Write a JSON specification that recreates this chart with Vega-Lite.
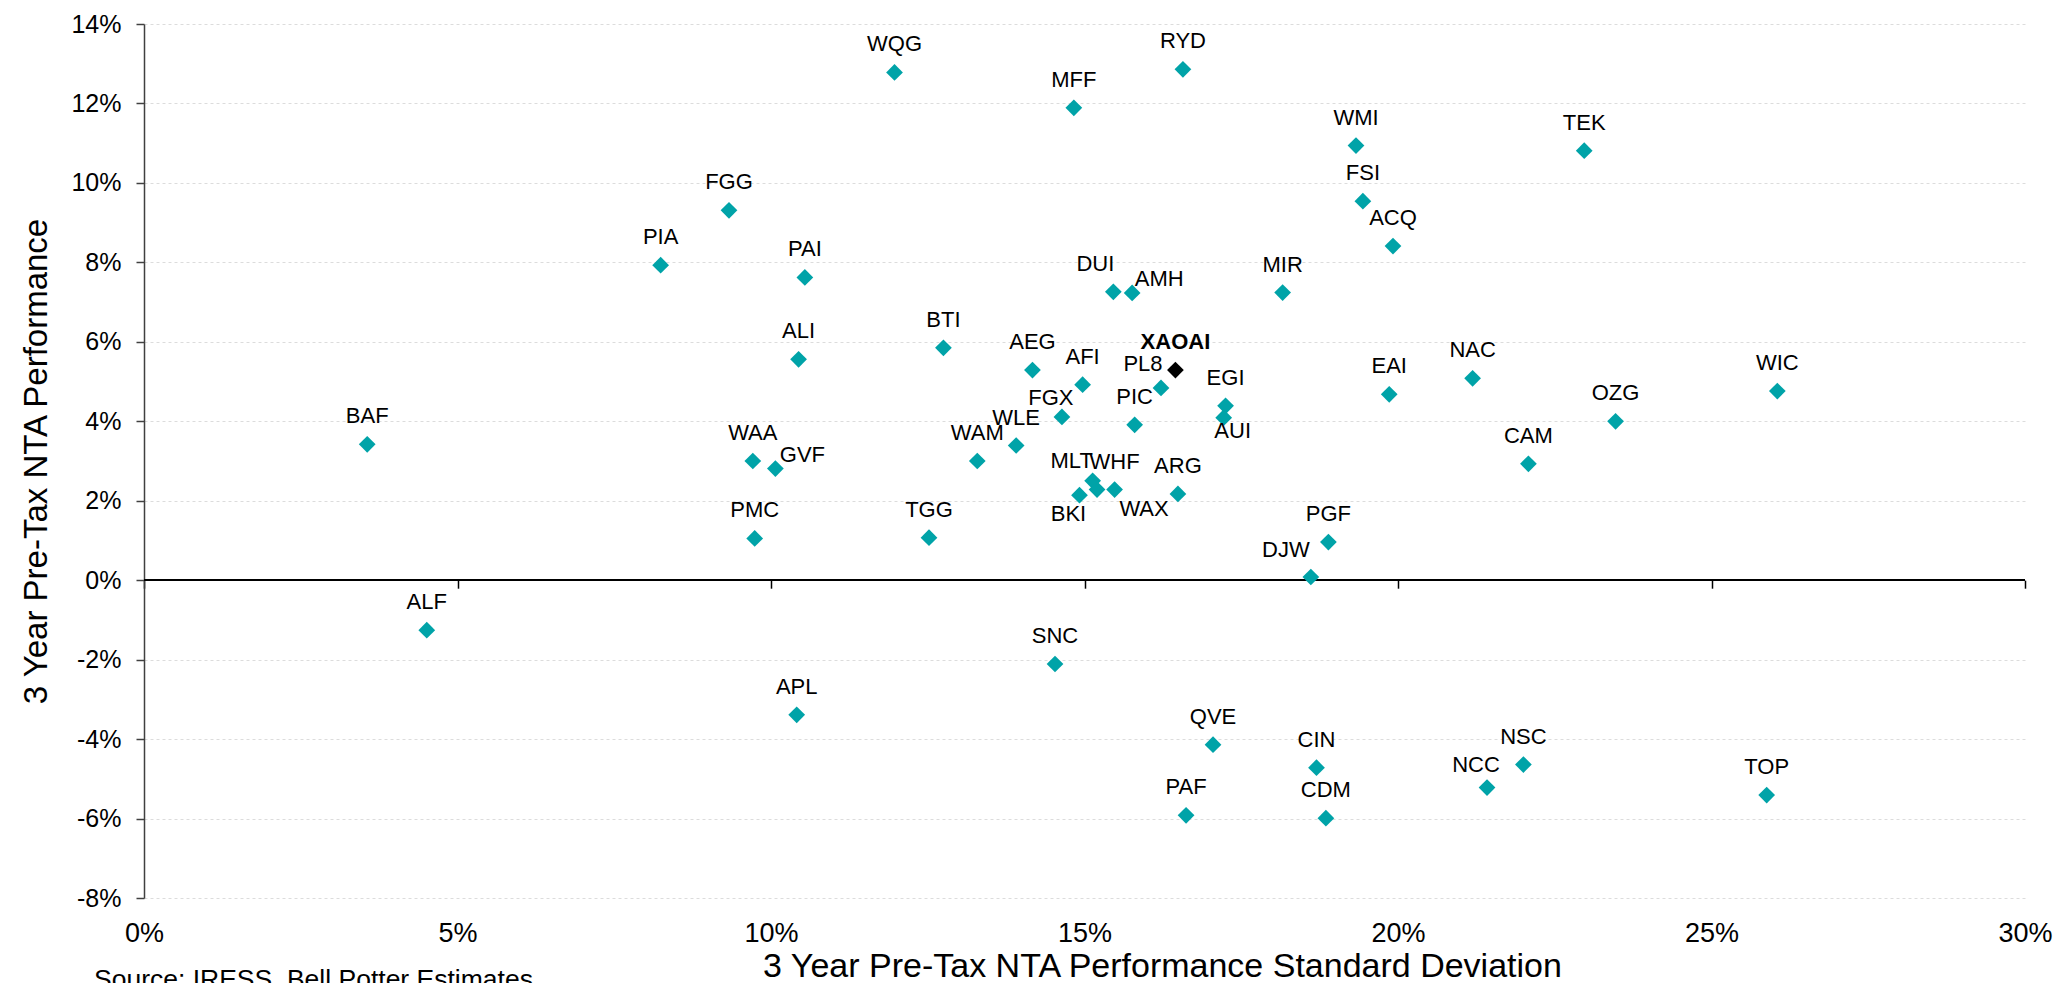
{
  "$schema": "https://vega.github.io/schema/vega-lite/v6.json",
  "width": 1881,
  "height": 874,
  "autosize": {"type": "none"},
  "padding": {"left": 144, "top": 24, "right": 30, "bottom": 85},
  "background": "white",
  "config": {"view": {"stroke": null}, "font": "Liberation Sans"},
  "title": {
    "text": "Source: IRESS, Bell Potter Estimates",
    "orient": "bottom",
    "anchor": "start",
    "frame": "group",
    "font": "Liberation Sans",
    "fontSize": 26.5,
    "fontWeight": "normal",
    "color": "#000000",
    "offset": -16,
    "dx": -50
  },
  "data": {
    "values": [
      {"name": "WQG", "sd": 11.97, "perf": 12.78},
      {"name": "RYD", "sd": 16.57, "perf": 12.86},
      {"name": "MFF", "sd": 14.83, "perf": 11.89},
      {"name": "WMI", "sd": 19.33, "perf": 10.94},
      {"name": "TEK", "sd": 22.97, "perf": 10.81},
      {"name": "FSI", "sd": 19.44, "perf": 9.54},
      {"name": "FGG", "sd": 9.33, "perf": 9.31},
      {"name": "ACQ", "sd": 19.92, "perf": 8.41},
      {"name": "PIA", "sd": 8.24, "perf": 7.93},
      {"name": "PAI", "sd": 10.54, "perf": 7.62},
      {"name": "DUI", "sd": 15.46, "perf": 7.26},
      {"name": "AMH", "sd": 15.76, "perf": 7.23},
      {"name": "MIR", "sd": 18.16, "perf": 7.24},
      {"name": "BTI", "sd": 12.75, "perf": 5.85},
      {"name": "ALI", "sd": 10.44, "perf": 5.56},
      {"name": "XAOAI", "sd": 16.45, "perf": 5.29},
      {"name": "AEG", "sd": 14.17, "perf": 5.29},
      {"name": "AFI", "sd": 14.97, "perf": 4.92},
      {"name": "PL8", "sd": 16.22, "perf": 4.84},
      {"name": "EGI", "sd": 17.25, "perf": 4.39},
      {"name": "AUI", "sd": 17.22, "perf": 4.09},
      {"name": "FGX", "sd": 14.64, "perf": 4.11},
      {"name": "PIC", "sd": 15.80, "perf": 3.91},
      {"name": "EAI", "sd": 19.86, "perf": 4.68},
      {"name": "NAC", "sd": 21.19, "perf": 5.08},
      {"name": "WIC", "sd": 26.05, "perf": 4.76},
      {"name": "OZG", "sd": 23.47, "perf": 4.00},
      {"name": "CAM", "sd": 22.08, "perf": 2.93},
      {"name": "BAF", "sd": 3.56, "perf": 3.42},
      {"name": "WAA", "sd": 9.71, "perf": 3.00},
      {"name": "GVF", "sd": 10.07, "perf": 2.81},
      {"name": "WAM", "sd": 13.29, "perf": 3.00},
      {"name": "WLE", "sd": 13.91, "perf": 3.39},
      {"name": "MLT", "sd": 15.13, "perf": 2.50},
      {"name": "WAX", "sd": 15.20, "perf": 2.28},
      {"name": "WHF", "sd": 15.48, "perf": 2.28},
      {"name": "BKI", "sd": 14.92, "perf": 2.14},
      {"name": "ARG", "sd": 16.49, "perf": 2.17},
      {"name": "PMC", "sd": 9.74, "perf": 1.05},
      {"name": "TGG", "sd": 12.52, "perf": 1.07},
      {"name": "PGF", "sd": 18.89, "perf": 0.96},
      {"name": "DJW", "sd": 18.61, "perf": 0.08},
      {"name": "ALF", "sd": 4.51, "perf": -1.26},
      {"name": "SNC", "sd": 14.53, "perf": -2.11},
      {"name": "APL", "sd": 10.41, "perf": -3.39},
      {"name": "QVE", "sd": 17.05, "perf": -4.14},
      {"name": "CIN", "sd": 18.70, "perf": -4.72},
      {"name": "NSC", "sd": 22.00, "perf": -4.64},
      {"name": "NCC", "sd": 21.42, "perf": -5.22},
      {"name": "TOP", "sd": 25.88, "perf": -5.41},
      {"name": "PAF", "sd": 16.62, "perf": -5.92},
      {"name": "CDM", "sd": 18.85, "perf": -5.99}
    ]
  },
  "layer": [
    {
      "mark": {"type": "rule", "color": "#000000", "strokeWidth": 1.5},
      "encoding": {"y": {"datum": 0, "type": "quantitative"}}
    },
    {
      "mark": {"type": "point", "shape": "diamond", "filled": true, "size": 280, "opacity": 1, "strokeWidth": 0},
      "encoding": {
        "x": {
          "field": "sd", "type": "quantitative",
          "scale": {"domain": [0, 30], "nice": false, "zero": false},
          "axis": {
            "orient": "bottom",
            "values": [0, 5, 10, 15, 20, 25, 30],
            "labelExpr": "datum.value + '%'",
            "labelFlush": false,
            "labelFont": "Liberation Sans",
            "labelFontSize": 27,
            "labelColor": "#000000",
            "labelPadding": 22,
            "ticks": false,
            "domain": false,
            "grid": false,
            "title": "3 Year Pre-Tax NTA Performance Standard Deviation",
            "titleFont": "Liberation Sans",
            "titleFontSize": 34,
            "titleFontWeight": "normal",
            "titleColor": "#000000",
            "titleX": 1018,
            "titleY": 78,
            "titleBaseline": "alphabetic"
          }
        },
        "y": {
          "field": "perf", "type": "quantitative",
          "scale": {"domain": [-8, 14], "nice": false, "zero": false},
          "axis": {
            "values": [-8, -6, -4, -2, 0, 2, 4, 6, 8, 10, 12, 14],
            "labelExpr": "datum.value + '%'",
            "labelFlush": false,
            "labelFont": "Liberation Sans",
            "labelFontSize": 25,
            "labelColor": "#000000",
            "labelPadding": 15,
            "tickSize": 8,
            "tickColor": "#404040",
            "tickWidth": 1.5,
            "domainColor": "#404040",
            "domainWidth": 1.5,
            "grid": true,
            "gridColor": "#DCDCDC",
            "gridDash": [3, 3],
            "gridWidth": 1,
            "title": "3 Year Pre-Tax NTA Performance",
            "titleFont": "Liberation Sans",
            "titleFontSize": 33,
            "titleFontWeight": "normal",
            "titleColor": "#000000",
            "titlePadding": 17
          }
        },
        "color": {
          "condition": {"test": "datum.name === 'XAOAI'", "value": "#000000"},
          "value": "#00A3A8"
        }
      }
    },
    {
      "transform": [{"filter": {"not": {"field": "name", "oneOf": ["XAOAI", "AMH", "GVF", "PL8", "DUI", "DJW", "AUI", "FGX", "MLT", "BKI", "WAX", "NCC"]}}}],
      "mark": {"type": "text", "font": "Liberation Sans", "fontSize": 22, "color": "#000000", "align": "center", "baseline": "middle", "dy": -28},
      "encoding": {
        "x": {"field": "sd", "type": "quantitative", "axis": {"orient": "bottom", "offset": -317.8, "values": [0, 5, 10, 15, 20, 25, 30], "labels": false, "domain": false, "grid": false, "ticks": true, "tickSize": 8, "tickColor": "#000000", "tickWidth": 1.5, "title": null}},
        "y": {"field": "perf", "type": "quantitative"},
        "text": {"field": "name"}
      }
    },
    {
      "transform": [{"filter": {"field": "name", "equal": "XAOAI"}}],
      "mark": {"type": "text", "font": "Liberation Sans", "fontSize": 22, "fontWeight": "bold", "color": "#000000", "align": "center", "baseline": "middle", "dy": -28},
      "encoding": {"x": {"field": "sd", "type": "quantitative", "axis": null}, "y": {"field": "perf", "type": "quantitative"}, "text": {"field": "name"}}
    },
    {
      "transform": [{"filter": {"field": "name", "oneOf": ["AMH", "GVF"]}}],
      "mark": {"type": "text", "font": "Liberation Sans", "fontSize": 22, "color": "#000000", "align": "center", "baseline": "middle", "dx": 27, "dy": -14},
      "encoding": {"x": {"field": "sd", "type": "quantitative", "axis": null}, "y": {"field": "perf", "type": "quantitative"}, "text": {"field": "name"}}
    },
    {
      "transform": [{"filter": {"field": "name", "equal": "PL8"}}],
      "mark": {"type": "text", "font": "Liberation Sans", "fontSize": 22, "color": "#000000", "align": "center", "baseline": "middle", "dx": -18, "dy": -24},
      "encoding": {"x": {"field": "sd", "type": "quantitative", "axis": null}, "y": {"field": "perf", "type": "quantitative"}, "text": {"field": "name"}}
    },
    {
      "transform": [{"filter": {"field": "name", "equal": "DUI"}}],
      "mark": {"type": "text", "font": "Liberation Sans", "fontSize": 22, "color": "#000000", "align": "center", "baseline": "middle", "dx": -18, "dy": -28},
      "encoding": {"x": {"field": "sd", "type": "quantitative", "axis": null}, "y": {"field": "perf", "type": "quantitative"}, "text": {"field": "name"}}
    },
    {
      "transform": [{"filter": {"field": "name", "equal": "DJW"}}],
      "mark": {"type": "text", "font": "Liberation Sans", "fontSize": 22, "color": "#000000", "align": "center", "baseline": "middle", "dx": -25, "dy": -27},
      "encoding": {"x": {"field": "sd", "type": "quantitative", "axis": null}, "y": {"field": "perf", "type": "quantitative"}, "text": {"field": "name"}}
    },
    {
      "transform": [{"filter": {"field": "name", "equal": "AUI"}}],
      "mark": {"type": "text", "font": "Liberation Sans", "fontSize": 22, "color": "#000000", "align": "center", "baseline": "middle", "dx": 9, "dy": 13},
      "encoding": {"x": {"field": "sd", "type": "quantitative", "axis": null}, "y": {"field": "perf", "type": "quantitative"}, "text": {"field": "name"}}
    },
    {
      "transform": [{"filter": {"field": "name", "equal": "FGX"}}],
      "mark": {"type": "text", "font": "Liberation Sans", "fontSize": 22, "color": "#000000", "align": "center", "baseline": "middle", "dx": -11, "dy": -19},
      "encoding": {"x": {"field": "sd", "type": "quantitative", "axis": null}, "y": {"field": "perf", "type": "quantitative"}, "text": {"field": "name"}}
    },
    {
      "transform": [{"filter": {"field": "name", "equal": "MLT"}}],
      "mark": {"type": "text", "font": "Liberation Sans", "fontSize": 22, "color": "#000000", "align": "center", "baseline": "middle", "dx": -21, "dy": -20},
      "encoding": {"x": {"field": "sd", "type": "quantitative", "axis": null}, "y": {"field": "perf", "type": "quantitative"}, "text": {"field": "name"}}
    },
    {
      "transform": [{"filter": {"field": "name", "equal": "BKI"}}],
      "mark": {"type": "text", "font": "Liberation Sans", "fontSize": 22, "color": "#000000", "align": "center", "baseline": "middle", "dx": -11, "dy": 19},
      "encoding": {"x": {"field": "sd", "type": "quantitative", "axis": null}, "y": {"field": "perf", "type": "quantitative"}, "text": {"field": "name"}}
    },
    {
      "transform": [{"filter": {"field": "name", "equal": "WAX"}}],
      "mark": {"type": "text", "font": "Liberation Sans", "fontSize": 22, "color": "#000000", "align": "center", "baseline": "middle", "dx": 47, "dy": 19},
      "encoding": {"x": {"field": "sd", "type": "quantitative", "axis": null}, "y": {"field": "perf", "type": "quantitative"}, "text": {"field": "name"}}
    },
    {
      "transform": [{"filter": {"field": "name", "equal": "NCC"}}],
      "mark": {"type": "text", "font": "Liberation Sans", "fontSize": 22, "color": "#000000", "align": "center", "baseline": "middle", "dx": -11, "dy": -23},
      "encoding": {"x": {"field": "sd", "type": "quantitative", "axis": null}, "y": {"field": "perf", "type": "quantitative"}, "text": {"field": "name"}}
    }
  ],
  "resolve": {"axis": {"x": "independent"}}
}
